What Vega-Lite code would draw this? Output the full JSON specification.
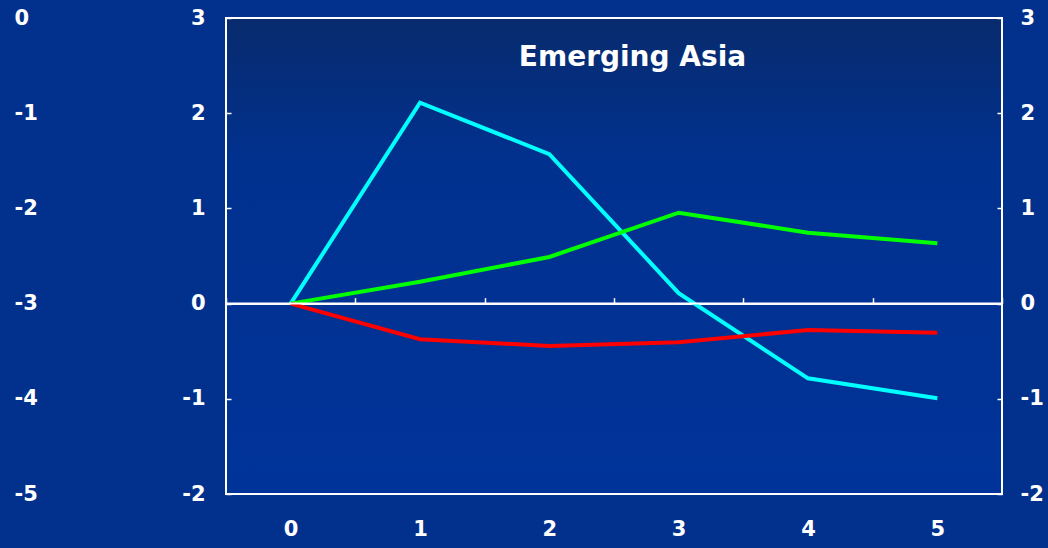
{
  "$schema": "https://vega.github.io/schema/vega-lite/v6.json",
  "width": 776,
  "height": 476,
  "autosize": {"type": "none"},
  "padding": {"left": 226, "top": 18, "right": 46, "bottom": 54},
  "background": "#02308d",
  "config": {
    "view": {
      "stroke": "#ffffff",
      "strokeWidth": 2,
      "fill": {
        "gradient": "linear",
        "x1": 0, "y1": 0, "x2": 0, "y2": 1,
        "stops": [
          {"offset": 0, "color": "#082b6d"},
          {"offset": 0.3, "color": "#01318f"},
          {"offset": 1, "color": "#003399"}
        ]
      }
    },
    "axis": {
      "labelFont": "DejaVu Sans",
      "labelFontWeight": "bold",
      "labelFontSize": 21,
      "labelColor": "#ffffff",
      "domainColor": "#ffffff",
      "tickColor": "#ffffff",
      "grid": false,
      "title": null,
      "labelOverlap": false
    }
  },
  "datasets": {
    "series": [
      {"t": 0, "s": "Series 1", "v": 0},
      {"t": 1, "s": "Series 1", "v": 2.11},
      {"t": 2, "s": "Series 1", "v": 1.57},
      {"t": 3, "s": "Series 1", "v": 0.11},
      {"t": 4, "s": "Series 1", "v": -0.785},
      {"t": 5, "s": "Series 1", "v": -0.995},
      {"t": 0, "s": "Series 2", "v": 0},
      {"t": 1, "s": "Series 2", "v": 0.23},
      {"t": 2, "s": "Series 2", "v": 0.49},
      {"t": 3, "s": "Series 2", "v": 0.955},
      {"t": 4, "s": "Series 2", "v": 0.745},
      {"t": 5, "s": "Series 2", "v": 0.633},
      {"t": 0, "s": "Series 3", "v": 0},
      {"t": 1, "s": "Series 3", "v": -0.375},
      {"t": 2, "s": "Series 3", "v": -0.445},
      {"t": 3, "s": "Series 3", "v": -0.407},
      {"t": 4, "s": "Series 3", "v": -0.277},
      {"t": 5, "s": "Series 3", "v": -0.306}
    ]
  },
  "layer": [
    {
      "layer": [
        {
          "data": {"name": "series"},
          "mark": {"type": "line", "strokeWidth": 4, "strokeJoin": "miter"},
          "encoding": {
            "x": {
              "field": "t",
              "type": "ordinal",
              "bandPosition": 0.5,
              "scale": {"type": "band", "paddingInner": 0, "paddingOuter": 0},
              "axis": {
                "orient": "bottom",
                "offset": -190.4,
                "tickBand": "extent",
                "tickSize": -6,
                "tickWidth": 1.5,
                "domainWidth": 2,
                "labelPadding": 221,
                "labelAngle": 0
              }
            },
            "y": {
              "field": "v",
              "type": "quantitative",
              "scale": {"domain": [-2, 3], "nice": false, "zero": false},
              "axis": {
                "orient": "left",
                "values": [-2, -1, 0, 1, 2, 3],
                "labelExpr": "'' + datum.value",
                "domain": false,
                "tickSize": -5,
                "tickWidth": 1.5,
                "labelPadding": 26
              }
            },
            "color": {
              "field": "s",
              "type": "nominal",
              "scale": {"domain": ["Series 1", "Series 2", "Series 3"], "range": ["#00ffff", "#00ff00", "#ff0000"]},
              "legend": null
            }
          }
        },
        {
          "data": {"values": [{"label": "Emerging Asia"}]},
          "mark": {"type": "text", "font": "DejaVu Sans", "fontWeight": "bold", "fontSize": 28, "color": "#ffffff", "align": "center", "baseline": "alphabetic", "dx": 18.5},
          "encoding": {
            "x": {"datum": 3, "type": "ordinal", "bandPosition": 0},
            "y": {"datum": 2.5, "type": "quantitative"},
            "text": {"field": "label"}
          }
        }
      ]
    },
    {
      "data": {"values": [{}]},
      "mark": {"type": "rule", "color": "#ffffff", "strokeWidth": 2},
      "encoding": {
        "y": {
          "datum": 0,
          "type": "quantitative",
          "scale": {"domain": [-2, 3], "nice": false, "zero": false},
          "axis": {
            "orient": "right",
            "values": [-2, -1, 0, 1, 2, 3],
            "labelExpr": "'' + datum.value",
            "domain": false,
            "tickSize": -5,
            "tickWidth": 1.5,
            "labelPadding": 23
          }
        }
      }
    },
    {
      "data": {"values": [{}]},
      "mark": {"type": "rule", "color": "#ffffff", "strokeWidth": 2},
      "encoding": {
        "y": {
          "datum": 0,
          "type": "quantitative",
          "scale": {"domain": [-5, 0], "nice": false, "zero": false},
          "axis": {
            "orient": "left",
            "offset": 212,
            "values": [0, -1, -2, -3, -4, -5],
            "labelExpr": "'' + datum.value",
            "domain": false,
            "ticks": false,
            "tickSize": 0,
            "labelPadding": 0,
            "labelAlign": "left"
          }
        }
      }
    }
  ],
  "resolve": {"scale": {"y": "independent"}, "axis": {"y": "independent"}}
}
